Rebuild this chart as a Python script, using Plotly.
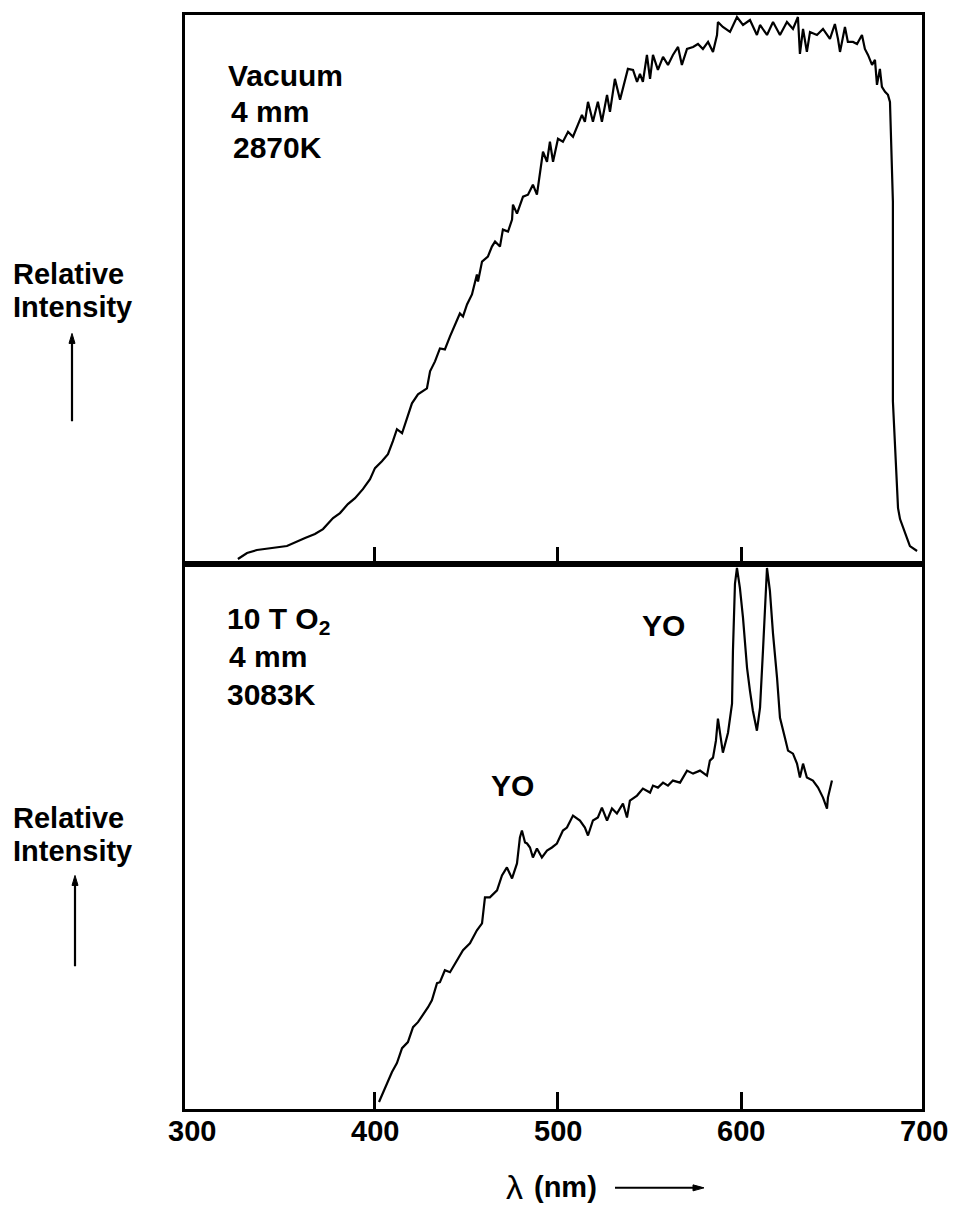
import plotly.graph_objects as go

# ---------------- data ----------------
# Top panel: Vacuum, 4 mm, 2870K
vac_wavelength = [325.1, 330.1, 335.5, 343.7, 351.9, 361.8, 367.2, 371.6, 377.1, 380.9,
                  385.2, 389.1, 393.4, 397.3, 400.0, 403.8, 407.1, 409.8, 412.0, 414.8,
                  417.5, 420.2, 423.5, 428.4, 430.1, 432.8, 435.5, 438.2, 441.0, 443.7,
                  446.4, 448.1, 450.3, 453.0, 455.7, 456.3, 458.5, 461.7, 463.9, 465.6,
                  468.3, 469.9, 472.7, 474.9, 475.4, 477.6, 480.9, 483.6, 486.3, 488.5,
                  490.2, 491.8, 494.0, 495.6, 497.3, 500.0, 502.7, 505.5, 508.2, 510.9,
                  513.1, 514.7, 516.4, 519.1, 521.8, 524.0, 526.8, 528.4, 531.1, 533.9,
                  536.6, 538.2, 541.0, 543.2, 544.8, 546.4, 548.6, 550.3, 551.9, 554.6,
                  557.4, 560.1, 562.8, 565.6, 567.7, 570.5, 573.8, 576.5, 579.2, 582.0,
                  584.7, 586.9, 587.4, 590.1, 594.0, 597.8, 601.1, 604.9, 608.7, 610.4,
                  614.2, 617.5, 621.3, 625.1, 628.4, 631.1, 632.2, 633.9, 636.0, 637.7,
                  641.5, 644.8, 648.6, 651.3, 653.0, 654.1, 656.8, 658.4, 661.2, 663.4,
                  666.1, 667.7, 669.4, 671.6, 673.2, 674.3, 675.9, 677.0, 678.7, 680.3,
                  681.4, 681.9, 683.0, 683.0, 684.7, 685.8, 686.9, 688.5, 690.7, 692.3,
                  696.2]
vac_intensity = [5, 11, 14, 16, 18, 26, 30, 35, 46, 51,
                 60, 66, 75, 85, 96, 103, 110, 123, 135, 131,
                 145, 161, 170, 176, 193, 203, 216, 215, 228, 240,
                 251, 248, 260, 270, 290, 283, 303, 308, 318, 323,
                 318, 335, 333, 345, 360, 351, 368, 370, 380, 370,
                 393, 413, 403, 423, 403, 426, 423, 433, 428, 440,
                 450, 443, 463, 443, 463, 443, 470, 453, 486, 465,
                 483, 496, 495, 483, 491, 483, 510, 486, 510, 495,
                 508, 500, 510, 518, 500, 516, 518, 521, 516, 523,
                 513, 530, 543, 538, 533, 548, 540, 545, 530, 540,
                 530, 543, 530, 543, 536, 548, 511, 536, 513, 533,
                 530, 536, 526, 541, 526, 513, 538, 523, 523, 521,
                 530, 516, 510, 500, 505, 480, 496, 478, 473, 470,
                 463, 430, 363, 163, 93, 56, 45, 36, 26, 18,
                 13]

# Bottom panel: 10 T O2, 4 mm, 3083K
oxy_wavelength = [402.2, 404.4, 407.1, 409.3, 412.0, 414.8, 418.0, 420.8, 423.5, 427.3,
                  429.0, 431.1, 433.9, 435.5, 438.2, 441.0, 444.8, 448.1, 451.9, 455.7,
                  458.5, 460.1, 462.8, 466.7, 469.4, 472.1, 474.9, 477.6, 479.2, 480.3,
                  482.0, 483.1, 484.7, 486.3, 488.5, 491.2, 494.0, 496.7, 499.4, 502.7,
                  504.9, 508.2, 512.0, 514.7, 516.4, 519.1, 521.8, 524.0, 526.8, 529.5,
                  532.2, 535.5, 537.7, 539.3, 543.2, 546.4, 550.3, 551.9, 554.6, 557.4,
                  560.1, 562.8, 566.7, 570.5, 573.8, 577.6, 581.4, 583.0, 584.7, 586.3,
                  587.4, 590.1, 592.9, 595.1, 595.6, 596.7, 597.8, 599.4, 601.1, 603.3,
                  604.9, 606.5, 608.7, 610.4, 612.0, 613.1, 614.2, 615.8, 617.5, 619.7,
                  621.3, 624.0, 625.7, 628.4, 630.6, 632.2, 633.9, 636.0, 639.3, 642.1,
                  644.8, 647.0, 647.5, 649.7]
oxy_intensity = [7, 16, 27, 37, 46, 61, 67, 82, 87, 97,
                 102, 109, 126, 127, 139, 137, 149, 159, 166, 179,
                 186, 212, 212, 219, 234, 242, 231, 246, 272, 279,
                 267, 266, 262, 252, 261, 252, 259, 262, 266, 279,
                 282, 294, 289, 282, 274, 289, 292, 302, 289, 301,
                 296, 306, 292, 309, 314, 321, 317, 324, 322, 327,
                 324, 329, 327, 339, 336, 339, 334, 349, 352, 369,
                 391, 357, 377, 406, 459, 526, 542, 522, 492, 442,
                 419, 399, 379, 402, 459, 509, 542, 519, 476, 432,
                 392, 372, 359, 356, 346, 332, 346, 332, 329, 322,
                 312, 301, 312, 329]

tick_values = [400, 500, 600]
tick_label_values = [300, 400, 500, 600, 700]
tick_labels = ["300", "400", "500", "600", "700"]

top_label_lines = ["Vacuum", "4 mm", "2870K"]
bottom_label_lines = ["10 T O<sub>2</sub>", "4 mm", "3083K"]
peak_label = "YO"

# ---------------- layout helpers (pixel -> paper) ----------------
L, R, T, B = 185, 922, 13, 1109
W, H = 956, 1207
XMIN, XMAX = 296.2, 698.9


def px(x):
    return (x - L) / (R - L)


def py(y):
    return (B - y) / (B - T)


def xfrac(v):
    return (v - XMIN) / (XMAX - XMIN)


split = py(563)
FONT = "Liberation Sans, Arial, Helvetica, sans-serif"
black = "#000000"

fig = go.Figure()
fig.add_trace(go.Scatter(x=vac_wavelength, y=vac_intensity, mode="lines",
                         line=dict(color=black, width=2.2), xaxis="x2", yaxis="y2",
                         showlegend=False, hoverinfo="skip"))
fig.add_trace(go.Scatter(x=oxy_wavelength, y=oxy_intensity, mode="lines",
                         line=dict(color=black, width=2.2), xaxis="x", yaxis="y",
                         showlegend=False, hoverinfo="skip"))

xcommon = dict(range=[XMIN, XMAX], showline=True, mirror=True, linecolor=black,
               linewidth=2.5, ticks="inside", tickvals=tick_values, ticklen=17,
               tickwidth=2.5, tickcolor=black, showticklabels=False,
               showgrid=False, zeroline=False, fixedrange=True)
ycommon = dict(showline=True, mirror=True, linecolor=black, linewidth=2.5,
               ticks="", showticklabels=False, showgrid=False, zeroline=False,
               fixedrange=True)

annotations = []
shapes = []


def text(t, x, y, size=30, xanchor="left", bold=True):
    annotations.append(dict(text=("<b>" + t + "</b>") if bold else t,
                            x=px(x), y=py(y), xref="paper",
                            yref="paper", xanchor=xanchor, yanchor="middle",
                            showarrow=False, font=dict(family=FONT, size=size,
                                                       color=black)))


def vline_arrow(x, ytop, ybot):
    shapes.append(dict(type="line", xref="paper", yref="paper",
                       x0=px(x), x1=px(x), y0=py(ybot), y1=py(ytop + 6),
                       line=dict(color=black, width=2.2)))
    path = "M {} {} L {} {} L {} {} Z".format(px(x), py(ytop), px(x - 3), py(ytop + 10),
                                               px(x + 3), py(ytop + 10))
    shapes.append(dict(type="path", xref="paper", yref="paper", path=path,
                       fillcolor=black, line=dict(color=black, width=1)))


def hline_arrow(y, xleft, xright):
    shapes.append(dict(type="line", xref="paper", yref="paper",
                       x0=px(xleft), x1=px(xright - 6), y0=py(y), y1=py(y),
                       line=dict(color=black, width=2)))
    path = "M {} {} L {} {} L {} {} Z".format(px(xright), py(y), px(xright - 11), py(y - 3),
                                               px(xright - 11), py(y + 3))
    shapes.append(dict(type="path", xref="paper", yref="paper", path=path,
                       fillcolor=black, line=dict(color=black, width=1)))


# panel labels
for t, x, y in zip(top_label_lines, [226, 229, 231], [74, 110, 146]):
    text(t, x, y)
for t, x, y in zip(bottom_label_lines, [225, 227, 225], [620, 656, 694]):
    text(t, x, y)

text(peak_label, 663, 625, xanchor="center")
text(peak_label, 512, 785, xanchor="center")

# y-axis labels
for y0 in (0, 545):
    text("Relative", 11, 272 + y0, size=29)
    text("Intensity", 11, 306 + y0, size=29)

# vertical arrows (head at top)
vline_arrow(72, 332, 420)
vline_arrow(75, 875, 966)

# x tick labels
for v, lab in zip(tick_label_values, tick_labels):
    annotations.append(dict(text="<b>" + lab + "</b>", x=xfrac(v), y=py(1131),
                            xref="paper", yref="paper", xanchor="center",
                            yanchor="middle", showarrow=False,
                            font=dict(family=FONT, size=29, color=black)))

# x axis title and arrow
text("λ", 514, 1187, size=34, xanchor="center", bold=False)
text("(nm)", 532, 1187, size=29, xanchor="left")
hline_arrow(1188, 615, 704)

fig.update_layout(
    width=W, height=H,
    margin=dict(l=L, r=W - R, t=T, b=H - B, pad=0),
    paper_bgcolor="white", plot_bgcolor="white",
    xaxis=dict(domain=[0, 1], anchor="y", **xcommon),
    yaxis=dict(domain=[0, split], range=[0, 546], anchor="x", **ycommon),
    xaxis2=dict(domain=[0, 1], anchor="y2", **xcommon),
    yaxis2=dict(domain=[split, 1], range=[0, 550], anchor="x2", **ycommon),
    annotations=annotations,
    shapes=shapes,
    showlegend=False,
)

fig.write_html("out.html", config={"displayModeBar": False})
